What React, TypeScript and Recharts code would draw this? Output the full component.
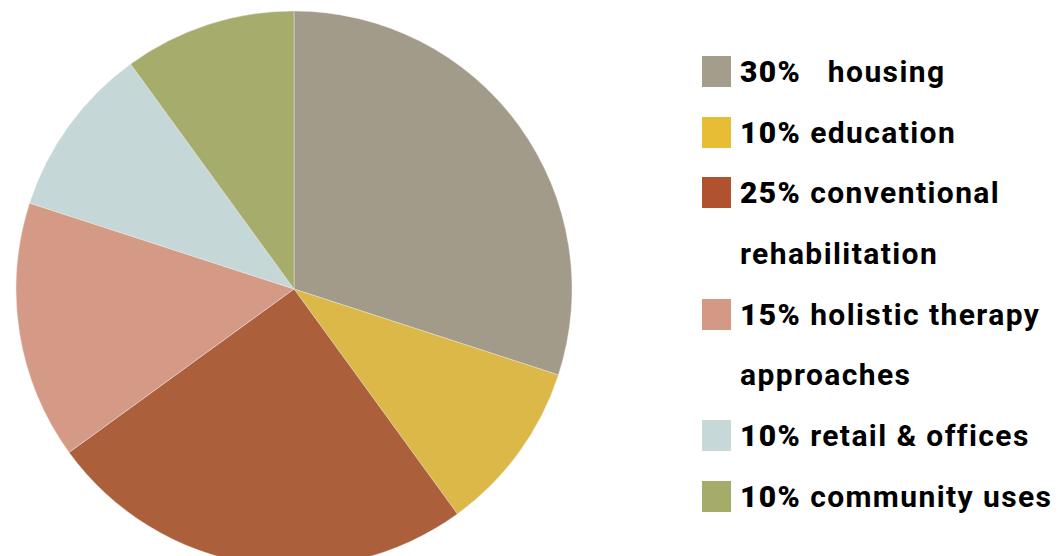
import React from 'react';
import { PieChart, Pie, Cell, Legend } from 'recharts';

const categories = ['housing', 'education', 'conventional rehabilitation', 'holistic therapy approaches', 'retail & offices', 'community uses'];
const shares = [30, 10, 25, 15, 10, 10];
const sliceColors = ['#a39b89', '#dbb848', '#ab5f3b', '#d59a86', '#c6d7d7', '#a6ac6b'];
const swatchColors = ['#a59d8b', '#e7bd36', '#b0522f', '#d39985', '#c6d9d8', '#a5ab69'];
// legend text, split where the original wraps
const legendLines = [['housing'], ['education'], ['conventional', 'rehabilitation'], ['holistic therapy', 'approaches'], ['retail & offices'], ['community uses']];

const data = categories.map((name, i) => ({ name, value: shares[i] }));

const font = 'Roboto, "DejaVu Sans", sans-serif';

const renderLegend = () => (
  <div style={{ fontFamily: font, color: '#000' }}>
    {legendLines.map((lines, i) => (
      <div key={i}>
        {lines.map((line, j) => (
          <div key={j} style={{ display: 'flex', alignItems: 'center', height: 60.7 }}>
            <div style={{ width: 29, height: 31, background: j === 0 ? swatchColors[i] : 'transparent', marginRight: 9 }} />
            <span style={{ fontSize: 30, fontWeight: 700, whiteSpace: 'pre', letterSpacing: 1.4 }}>
              {j === 0 && <span style={{ fontWeight: 900 }}>{shares[i]}%</span>}
              {j === 0 ? (i === 0 ? '   ' : ' ') : ''}
              {line}
            </span>
          </div>
        ))}
      </div>
    ))}
  </div>
);

export default function App() {
  return (
    <div style={{ position: 'absolute', left: 0, top: 0, background: '#fff' }}>
      <PieChart width={1063} height={556} margin={{ top: 0, right: 0, bottom: 0, left: 0 }}>
        <Pie
          data={data}
          dataKey="value"
          nameKey="name"
          cx={294}
          cy={289}
          outerRadius={278}
          startAngle={90}
          endAngle={-270}
          stroke="#eee"
          strokeWidth={0.4}
          isAnimationActive={false}
        >
          {data.map((d, i) => (
            <Cell key={d.name} fill={sliceColors[i]} />
          ))}
        </Pie>
        <Legend
          layout="vertical"
          align="right"
          verticalAlign="top"
          content={renderLegend}
          wrapperStyle={{ left: 702, top: 41, width: 361, right: 'auto' }}
        />
      </PieChart>
    </div>
  );
}
